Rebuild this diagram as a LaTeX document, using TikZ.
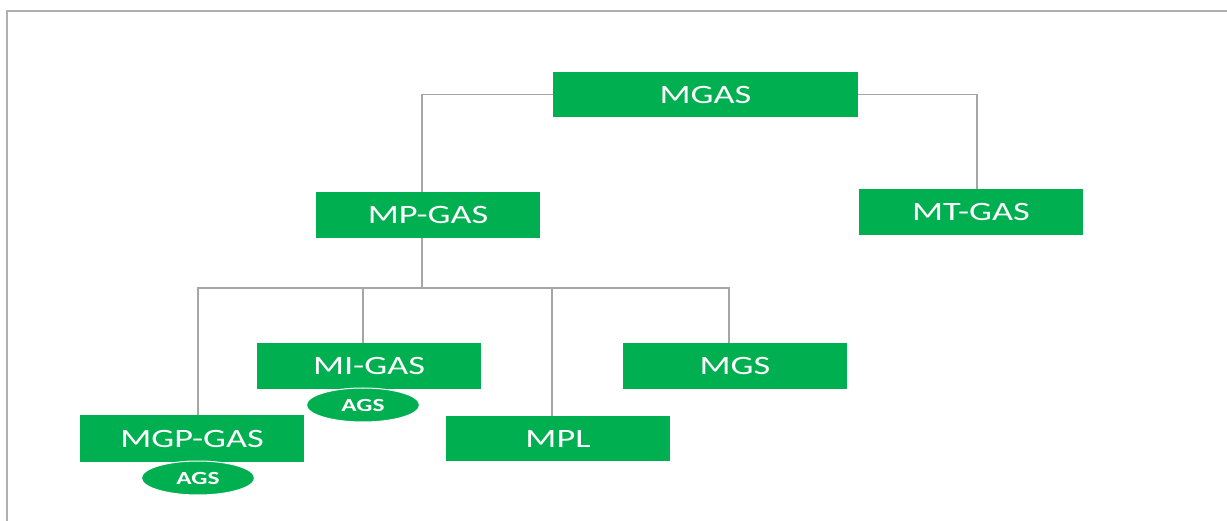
\documentclass[tikz,border=0pt]{standalone}
\usepackage{fontspec}
\setmainfont{Carlito}
\newfontfamily\boxfont{Carlito}[FakeStretch=1.37]
\usetikzlibrary{shapes.geometric}
\definecolor{boxgreen}{HTML}{00B050}
\definecolor{linegray}{HTML}{A6A6A6}
\definecolor{framegray}{HTML}{AFAFAF}
\tikzset{
  box/.style={rectangle, fill=boxgreen, text=white, minimum height=46pt, minimum width=224pt, inner sep=0pt, font=\boxfont\fontsize{26.5}{30}\selectfont},
  tag/.style={ellipse, fill=boxgreen, draw=white, line width=1pt, text=white, minimum width=113pt, minimum height=34pt, inner sep=0pt, font=\boxfont\fontsize{18.5}{20}\selectfont\bfseries},
  conn/.style={draw=linegray, line width=1.5pt},
  frame/.style={draw=framegray, line width=2.5pt}
}
\begin{document}
\begin{tikzpicture}[x=1pt,y=-1pt]
\useasboundingbox (0,0) rectangle (1227,521);
\fill[white] (0,0) rectangle (1227,521);
\draw[frame] (7,521) -- (7,11) -- (1227,11);
% nodes
\node[box, minimum width=305pt, minimum height=45pt] (mgas) at (705.5,94.5) {MGAS};
\node[box] (mpgas) at (428,215) {MP-GAS};
\node[box] (mtgas) at (971,212) {MT-GAS};
\node[box] (migas) at (369,366) {MI-GAS};
\node[box] (mgs) at (735,366) {MGS};
\node[box, minimum height=45pt] (mpl) at (558,438.5) {MPL};
\node[box] (mgpgas) at (192,438.5) {MGP-GAS};
\node[tag] (ags1) at (363,405) {AGS};
\node[tag] (ags2) at (198,478) {AGS};
% connectors
\coordinate (bus) at (422,288);
\draw[conn] (mgas.west) -| ([xshift=-6pt]mpgas.north);
\draw[conn] (mgas.east) -| ([xshift=6pt]mtgas.north);
\draw[conn] ([xshift=-6pt]mpgas.south) -- (bus);
\draw[conn] ([xshift=6pt]mgpgas.north) |- (bus) -| ([xshift=-6pt]mgs.north);
\draw[conn] ([xshift=-6pt]migas.north) -- ([xshift=-6pt]migas.north |- bus);
\draw[conn] ([xshift=-6pt]mpl.north) -- ([xshift=-6pt]mpl.north |- bus);
\end{tikzpicture}
\end{document}
